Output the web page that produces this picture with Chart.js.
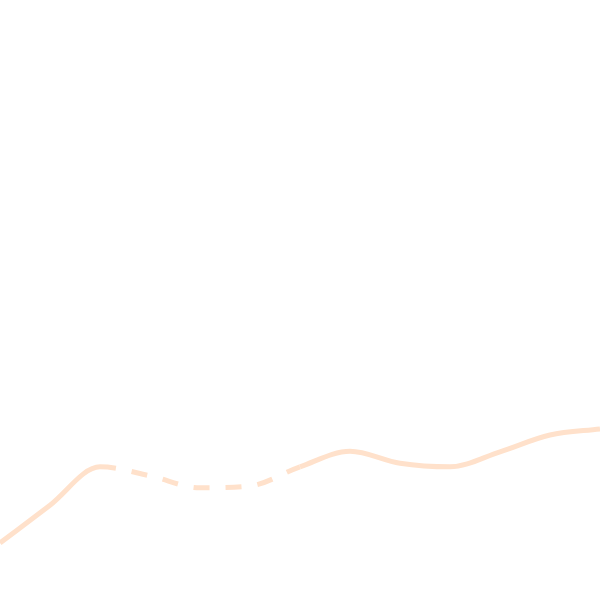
<!DOCTYPE html>
<html>
<head>
<meta charset="utf-8">
<script src="https://cdn.jsdelivr.net/npm/chart.js@4"></script>
<style>
  html, body { margin: 0; padding: 0; background: #ffffff; }
  #wrap { width: 600px; height: 600px; }
</style>
</head>
<body>
<div id="wrap"><canvas id="lineChart"></canvas></div>
<script>
// Chart data
const labels = ['1', '2', '3', '4', '5', '6', '7', '8', '9', '10', '11', '12', '13'];
const values = [9.5, 15.8, 22.2, 20.7, 18.7, 19.0, 22.2, 24.8, 22.8, 22.2, 24.7, 27.5, 28.5];
const dashFrom = 2;
const dashTo = 6;

function segmentDash(ctx) {
    if (ctx.p0DataIndex >= dashFrom && ctx.p1DataIndex <= dashTo) {
        return [16, 16];
    }
    return undefined;
}

const ctx = document.getElementById('lineChart').getContext('2d');
new Chart(ctx, {
    type: 'line',
    data: {
        labels: labels,
        datasets: [{
            label: 'Series',
            data: values,
            borderColor: '#ffe1cb',
            borderWidth: 5,
            borderCapStyle: 'butt',
            pointRadius: 0,
            cubicInterpolationMode: 'monotone',
            fill: false,
            segment: { borderDash: segmentDash }
        }]
    },
    options: {
        responsive: true,
        maintainAspectRatio: false,
        animation: false,
        layout: { padding: 0 },
        plugins: {
            legend: { display: false },
            tooltip: { enabled: false }
        },
        scales: {
            x: { display: false },
            y: { display: false, min: 0, max: 100 }
        }
    }
});
</script>
</body>
</html>
